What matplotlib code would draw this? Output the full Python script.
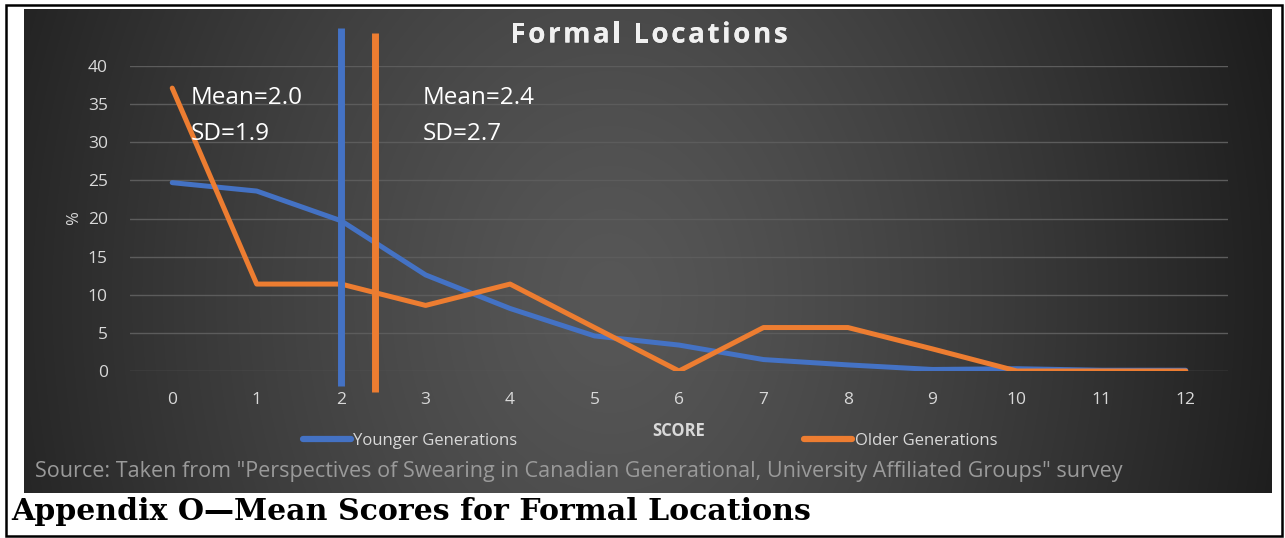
import numpy as np
import matplotlib
matplotlib.use("Agg")
import matplotlib.pyplot as plt
from matplotlib.patches import Rectangle
import matplotlib.patheffects as pe

# ---- data -------------------------------------------------------------
scores = list(range(13))
younger = [24.7, 23.6, 19.7, 12.6, 8.2, 4.6, 3.4, 1.5, 0.8, 0.2, 0.3, 0.1, 0.1]
older = [37.1, 11.4, 11.4, 8.6, 11.4, 5.7, 0.0, 5.7, 5.7, 2.9, 0.0, 0.0, 0.0]
series_names = ["Younger Generations", "Older Generations"]
mean_younger, sd_younger = 2.0, 1.9
mean_older, sd_older = 2.4, 2.7
y_ticks = [0, 5, 10, 15, 20, 25, 30, 35, 40]

BLUE = "#4472C4"
ORANGE = "#ED7D31"
TXT = "#d9d9d9"
FONT = "Open Sans"

W, H = 1285, 538
fig = plt.figure(figsize=(W / 100, H / 100), dpi=100, facecolor="white")


def fx(px):
    return px / W


def fy(py):
    return 1 - py / H


# ---- dark gradient panel ---------------------------------------------
px0, py0, px1, py1 = 24, 9, 1272, 493
bg = fig.add_axes([fx(px0), fy(py1), fx(px1 - px0), (py1 - py0) / H])
bg.set_axis_off()
gx = np.linspace(px0, px1, 600)
gy = np.linspace(py0, py1, 240)
GX, GY = np.meshgrid(gx, gy)
r = np.sqrt(((GX - 610) / 700) ** 2 + ((GY - 300) / 900) ** 2)
r = np.clip(r, 0, 1) ** 1.3
c_in, c_out = 0x57 / 255, 0x1c / 255
shade = c_in + (c_out - c_in) * r
bg.imshow(np.dstack([shade, shade, shade]), aspect="auto", extent=(0, 1, 0, 1),
          interpolation="bilinear")
bg.set_xlim(0, 1)
bg.set_ylim(0, 1)

# ---- plot area --------------------------------------------------------
ax = fig.add_axes([fx(130), fy(371), fx(1228 - 130), (371 - 66) / H])
ax.set_facecolor("none")
for s in ax.spines.values():
    s.set_visible(False)
ax.set_xlim(-0.5, 12.5)
ax.set_ylim(0, 40)
ax.set_yticks(y_ticks)
ax.set_xticks(scores)
ax.set_xticklabels([str(s) for s in scores])
ax.tick_params(length=0, colors=TXT, labelsize=12.5)
ax.tick_params(axis="y", pad=16)
ax.tick_params(axis="x", pad=15)
for lab in ax.get_xticklabels() + ax.get_yticklabels():
    lab.set_fontfamily(FONT)
ax.grid(axis="y", color="#5c5c5c", linewidth=1.0)
ax.set_axisbelow(True)

ax.plot(scores, younger, color=BLUE, linewidth=3.6, solid_capstyle="round",
        solid_joinstyle="round", label=series_names[0], zorder=3)
ax.plot(scores, older, color=ORANGE, linewidth=3.6, solid_capstyle="round",
        solid_joinstyle="round", label=series_names[1], zorder=3)

# mean markers
ax.plot([mean_younger, mean_younger], [-2.0, 45.0], color=BLUE, linewidth=5,
        solid_capstyle="butt", clip_on=False, zorder=4)
ax.plot([mean_older, mean_older], [-2.8, 44.3], color=ORANGE, linewidth=5,
        solid_capstyle="butt", clip_on=False, zorder=4)

ax.text(0.22, 37.4, f"Mean={mean_younger:.1f}\nSD={sd_younger:.1f}", color="white",
        fontsize=17.5, fontfamily=FONT, va="top", ha="left", linespacing=1.7,
        zorder=5)
ax.text(2.97, 37.4, f"Mean={mean_older:.1f}\nSD={sd_older:.1f}", color="white",
        fontsize=17.5, fontfamily=FONT, va="top", ha="left", linespacing=1.7,
        zorder=5)

ax.set_ylabel("%", color=TXT, fontsize=12, fontfamily=FONT, labelpad=4)
ax.set_xlabel("SCORE", color=TXT, fontsize=12, fontweight="bold",
              fontfamily=FONT, labelpad=10)

leg = ax.legend(loc="center", bbox_to_anchor=(fx(650), fy(441)),
                bbox_transform=fig.transFigure, ncol=2, frameon=False,
                handlelength=2.9, handletextpad=0.15, columnspacing=17.2,
                prop={"family": FONT, "size": 12})
for t in leg.get_texts():
    t.set_color(TXT)
for h in leg.legend_handles:
    h.set_linewidth(4.5)

# ---- letter-spaced chart title ---------------------------------------
title = "Formal Locations"
tracking = 2.6  # extra pixels between letters
title_kw = dict(color="#f0f0f0", fontsize=20, fontweight="bold", fontfamily=FONT,
                va="center", ha="left")
renderer = fig.canvas.get_renderer()
probe = fig.text(0, 0, "", **title_kw)
offsets = []
for i in range(len(title)):
    probe.set_text(title[:i] + "|")
    w_pref = probe.get_window_extent(renderer).width
    probe.set_text("|")
    w_bar = probe.get_window_extent(renderer).width
    offsets.append(w_pref - w_bar + i * tracking)
probe.set_text(title)
total = probe.get_window_extent(renderer).width + (len(title) - 1) * tracking
probe.remove()
start = 649 - total / 2
for ch, off in zip(title, offsets):
    if ch == " ":
        continue
    fig.text(fx(start + off), fy(35), ch,
             path_effects=[pe.withSimplePatchShadow(offset=(1.3, -1.3), alpha=0.65),
                           pe.Normal()], **title_kw)

fig.text(fx(35), fy(471),
         'Source: Taken from "Perspectives of Swearing in Canadian Generational, '
         'University Affiliated Groups" survey',
         color="#9a9a9a", fontsize=15.5, fontfamily=FONT, ha="left",
         va="center")

fig.text(fx(11), fy(511), "Appendix O\u2014Mean Scores for Formal Locations",
         color="black", fontsize=21.6, fontweight="bold", fontfamily="DejaVu Serif",
         ha="left", va="center")

fig.add_artist(Rectangle((fx(6), fy(536)), fx(1282 - 6), (536 - 5) / H,
                         transform=fig.transFigure, fill=False,
                         edgecolor="black", linewidth=1.8))

fig.savefig("out.png", dpi=100, facecolor="white")
